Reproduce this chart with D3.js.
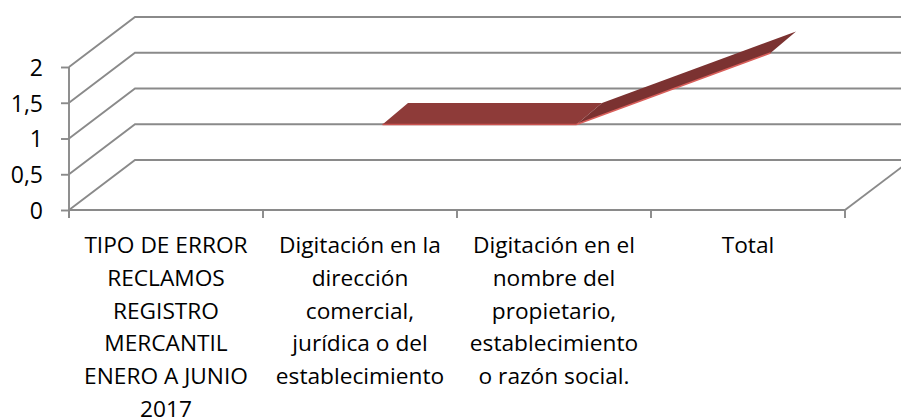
<!DOCTYPE html>
<html>
<head>
<meta charset="utf-8">
<title>Tipo de error</title>
<style>
    html, body { margin: 0; padding: 0; background: #fff; }
    svg { display: block; }
    text { font-family: "Open Sans", Lato, sans-serif; fill: #000; }
    .y-label { font-size: 23px; }
    .x-label { font-size: 22.7px; }
</style>
</head>
<body>
<div id="chart"></div>
<script src="https://d3js.org/d3.v7.min.js"></script>
<script>
    // chart values
    const categories = [
        "TIPO DE ERROR RECLAMOS REGISTRO MERCANTIL ENERO A JUNIO 2017",
        "Digitación en la dirección comercial, jurídica o del establecimiento",
        "Digitación en el nombre del propietario, establecimiento o razón social.",
        "Total"
    ];
    const categoryLines = [
        ["TIPO DE ERROR", "RECLAMOS", "REGISTRO", "MERCANTIL", "ENERO A JUNIO", "2017"],
        ["Digitación en la", "dirección", "comercial,", "jurídica o del", "establecimiento"],
        ["Digitación en el", "nombre del", "propietario,", "establecimiento", "o razón social."],
        ["Total"]
    ];
    const values = [null, 1, 1, 2];
    const yTicks = [0, 0.5, 1, 1.5, 2];

    const width = 901, height = 419;
    const depth = { x: 66, y: 50 };           // floor depth of the 3d box
    const ribbonFront = { x: 22.5, y: 14 };   // ribbon sits inside the box
    const ribbonBack = { x: 48, y: 35.5 };

    const x = d3.scaleBand().domain(categories).range([69, 845]);
    const y = d3.scaleLinear().domain([0, 2]).range([210, 67]);
    const cx = c => x(c) + x.bandwidth() / 2;

    const svg = d3.select("#chart").append("svg")
        .attr("width", width)
        .attr("height", height);

    const line = d3.line();
    const axisColor = "#8a8a8a";

    // gridlines and side walls
    const grid = svg.append("g")
        .attr("fill", "none")
        .attr("stroke", axisColor)
        .attr("stroke-width", 1.9);

    grid.selectAll("path.grid")
        .data(yTicks)
        .join("path")
        .attr("class", "grid")
        .attr("d", d => line([
            [x.range()[0], y(d)],
            [x.range()[0] + depth.x, y(d) - depth.y],
            [width, y(d) - depth.y]
        ]));

    grid.append("path")
        .attr("d", line([
            [x.range()[1], y(0)],
            [x.range()[1] + depth.x, y(0) - depth.y]
        ]));

    // ribbon
    const pts = categories
        .map((c, i) => ({ c: c, v: values[i] }))
        .filter(d => d.v !== null);

    const ribbon = svg.append("g");
    const faceColors = ["#8e3b39", "#7b3231"];
    const edgeColors = ["#c9524f", "#d9605c"];

    d3.pairs(pts).forEach(function (pair, i) {
        const a = pair[0], b = pair[1];
        const front = [
            [cx(a.c) + ribbonFront.x, y(a.v) - ribbonFront.y],
            [cx(b.c) + ribbonFront.x, y(b.v) - ribbonFront.y]
        ];
        const back = [
            [cx(b.c) + ribbonBack.x, y(b.v) - ribbonBack.y],
            [cx(a.c) + ribbonBack.x, y(a.v) - ribbonBack.y]
        ];
        ribbon.append("path")
            .attr("d", line(front.concat(back)) + "Z")
            .attr("fill", faceColors[i]);
        ribbon.append("path")
            .attr("d", line(front))
            .attr("fill", "none")
            .attr("stroke", edgeColors[i])
            .attr("stroke-width", 1.6);
    });

    // y axis
    const yAxis = svg.append("g")
        .attr("transform", "translate(" + x.range()[0] + ",0)")
        .call(d3.axisLeft(y)
            .tickValues(yTicks)
            .tickSize(8)
            .tickPadding(18)
            .tickFormat(d => String(d).replace(".", ",")));
    yAxis.select(".domain")
        .attr("d", line([[0, y(2)], [0, y(0) + 8]]))
        .attr("stroke", axisColor)
        .attr("stroke-width", 1.9);
    yAxis.selectAll("line").attr("stroke", axisColor).attr("stroke-width", 1.9);
    yAxis.selectAll("text").attr("class", "y-label").attr("dy", "0.36em");
    yAxis.attr("font-family", null).attr("font-size", null);

    // x axis, ticks sit on the band edges
    const xAxisG = svg.append("g");
    xAxisG.append("path")
        .attr("d", line([[x.range()[0], y(0)], [x.range()[1], y(0)]]))
        .attr("stroke", axisColor)
        .attr("stroke-width", 1.9);
    xAxisG.selectAll("line")
        .data(categories.concat([null]))
        .join("line")
        .attr("x1", d => d === null ? x.range()[1] : x(d))
        .attr("x2", d => d === null ? x.range()[1] : x(d))
        .attr("y1", y(0))
        .attr("y2", y(0) + 8)
        .attr("stroke", axisColor)
        .attr("stroke-width", 1.9);

    xAxisG.selectAll("text")
        .data(categories)
        .join("text")
        .attr("class", "x-label")
        .attr("text-anchor", "middle")
        .each(function (c, i) {
            d3.select(this).selectAll("tspan")
                .data(categoryLines[i])
                .join("tspan")
                .attr("x", cx(c))
                .attr("y", (d, j) => 253 + j * 32.8)
                .text(d => d);
        });
</script>
</body>
</html>
